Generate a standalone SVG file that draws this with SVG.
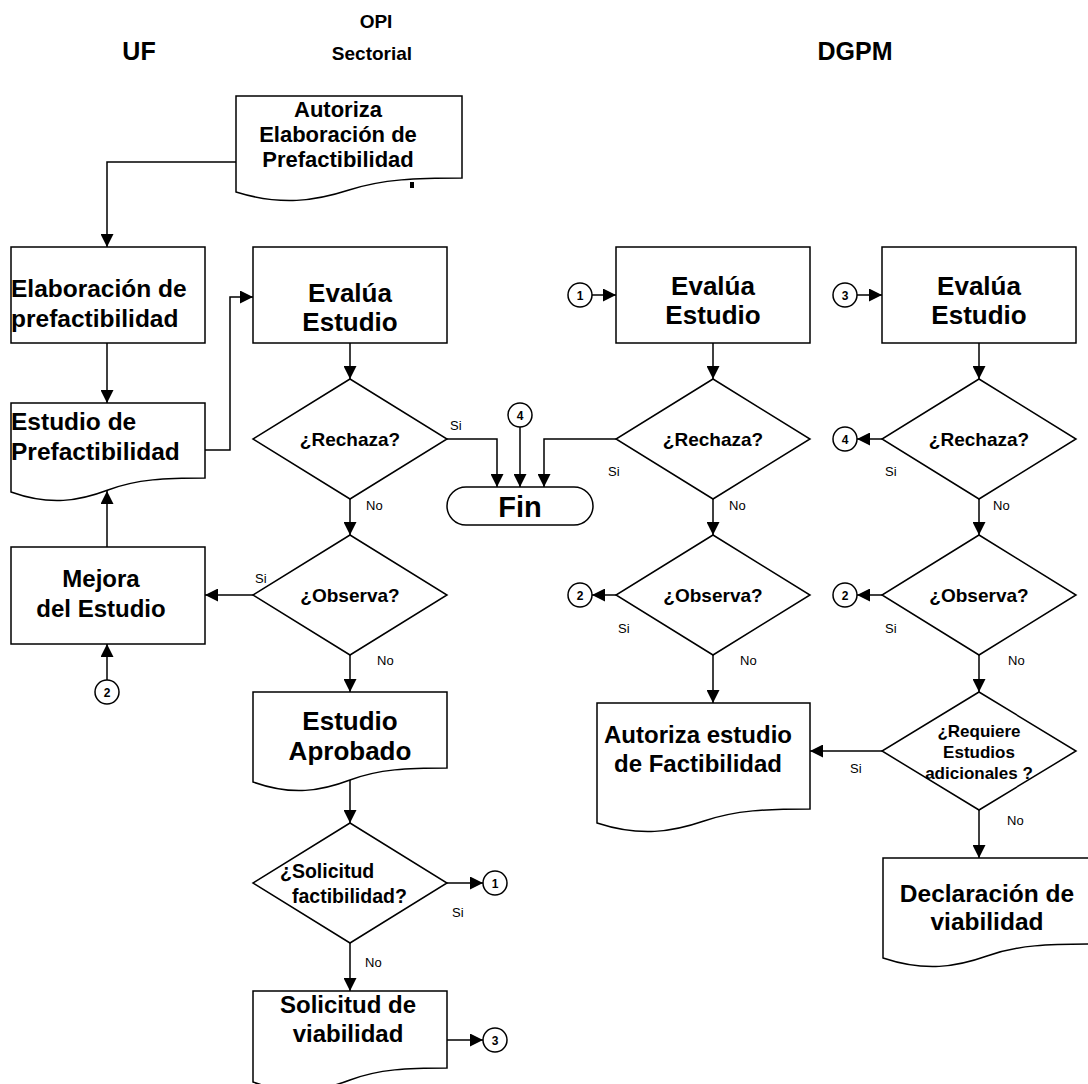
<svg xmlns="http://www.w3.org/2000/svg" width="1088" height="1084" viewBox="0 0 1088 1084">
<style>
.s{fill:#fff;stroke:#000;stroke-width:1.5}
.c{fill:none;stroke:#000;stroke-width:1.5}
.t{font-family:"Liberation Sans",Arial,sans-serif;font-weight:bold;fill:#000;text-anchor:middle}
.ts{font-family:"Liberation Sans",Arial,sans-serif;font-weight:bold;fill:#000}
.l{font-family:"Liberation Sans",Arial,sans-serif;font-size:13px;fill:#000}
.n{font-family:"Liberation Sans",Arial,sans-serif;font-weight:bold;font-size:12px;fill:#000;text-anchor:middle}
</style>
<defs>
<marker id="a" markerWidth="13" markerHeight="13" refX="13" refY="6.5" orient="auto" markerUnits="userSpaceOnUse">
<path d="M0,0 L13,6.5 L0,13 Z" fill="#000"/>
</marker>
</defs>
<rect width="1088" height="1084" fill="#fff"/>
<g id="headers">
<text class="t" x="139" y="60" font-size="25">UF</text>
<text class="t" x="376" y="28" font-size="19">OPI</text>
<text class="t" x="372" y="60" font-size="19">Sectorial</text>
<text class="t" x="855" y="60" font-size="25">DGPM</text>
</g>
<g id="connectors" class="c" marker-end="url(#a)">
<path d="M236,162 H107 V247"/>
<path d="M107,343 V403"/>
<path d="M205,450 H230 V297 H253"/>
<path d="M350,343 V379"/>
<path d="M447,439 H497 V487"/>
<path d="M520,427 V487"/>
<path d="M616,439 H544 V487"/>
<path d="M350,499 V535"/>
<path d="M253,595 H205"/>
<path d="M107,547 V491"/>
<path d="M107,680 V644"/>
<path d="M350,655 V692"/>
<path d="M350,780 V823"/>
<path d="M447,883 H483"/>
<path d="M350,943 V991"/>
<path d="M447,1040 H483"/>
<path d="M592,295 H616"/>
<path d="M713,343 V379"/>
<path d="M713,499 V535"/>
<path d="M616,595 H592"/>
<path d="M713,655 V703"/>
<path d="M857,295 H882"/>
<path d="M979,343 V379"/>
<path d="M882,439 H857"/>
<path d="M979,499 V535"/>
<path d="M882,595 H857"/>
<path d="M979,655 V692"/>
<path d="M882,751 H810"/>
<path d="M979,810 V858"/>
</g>
<g id="edge-labels" class="l">
<text x="450" y="430">Si</text>
<text x="366" y="510">No</text>
<text x="255" y="583">Si</text>
<text x="377" y="665">No</text>
<text x="452" y="917">Si</text>
<text x="365" y="967">No</text>
<text x="608" y="476">Si</text>
<text x="729" y="510">No</text>
<text x="885" y="476">Si</text>
<text x="993" y="510">No</text>
<text x="618" y="633">Si</text>
<text x="740" y="665">No</text>
<text x="885" y="633">Si</text>
<text x="1008" y="665">No</text>
<text x="850" y="773">Si</text>
<text x="1007" y="825">No</text>
</g>
<g id="autoriza-elaboracion">
<path class="s" d="M236,192 C281,206 315,201 349,190 S417,178 462,178 V96 H236 Z"/>
<text class="t" x="338" y="117" font-size="22">Autoriza</text>
<text class="t" x="338" y="142" font-size="22">Elaboración de</text>
<text class="t" x="338" y="167" font-size="22">Prefactibilidad</text>
<rect x="410" y="182" width="4" height="6" fill="#000"/>
</g>
<g id="elaboracion">
<rect class="s" x="11" y="247" width="194" height="96"/>
<text class="ts" x="11" y="297" font-size="24.5">Elaboración de</text>
<text class="ts" x="11" y="327" font-size="24.5">prefactibilidad</text>
</g>
<g id="estudio-prefactibilidad">
<path class="s" d="M11,492 C50,506 79,501 108,490 S166,478 205,478 V403 H11 Z"/>
<text class="ts" x="11" y="430" font-size="24.5">Estudio de</text>
<text class="ts" x="11" y="460" font-size="24.5">Prefactibilidad</text>
</g>
<g id="mejora">
<rect class="s" x="11" y="547" width="194" height="97"/>
<text class="t" x="101" y="587" font-size="24">Mejora</text>
<text class="t" x="101" y="617" font-size="24">del Estudio</text>
</g>
<g id="c2-uf">
<circle class="s" cx="107" cy="692" r="12"/>
<text class="n" x="107" y="696.5">2</text>
</g>
<g id="evalua-opi">
<rect class="s" x="253" y="247" width="194" height="96"/>
<text class="t" x="350" y="302" font-size="26">Evalúa</text>
<text class="t" x="350" y="331" font-size="26">Estudio</text>
</g>
<g id="rechaza-opi">
<path class="s" d="M350,379 L447,439 L350,499 L253,439 Z"/>
<text class="t" x="350" y="446" font-size="19">¿Rechaza?</text>
</g>
<g id="observa-opi">
<path class="s" d="M350,535 L447,595 L350,655 L253,595 Z"/>
<text class="t" x="350" y="602" font-size="19">¿Observa?</text>
</g>
<g id="estudio-aprobado">
<path class="s" d="M253,782 C292,796 321,791 350,780 S408,768 447,768 V692 H253 Z"/>
<text class="t" x="350" y="730" font-size="26">Estudio</text>
<text class="t" x="350" y="760" font-size="26">Aprobado</text>
</g>
<g id="solicitud-factibilidad">
<path class="s" d="M350,823 L447,883 L350,943 L253,883 Z"/>
<text class="ts" x="280" y="878" font-size="19.5">¿Solicitud</text>
<text class="ts" x="292" y="903" font-size="19.5">factibilidad?</text>
</g>
<g id="solicitud-viabilidad">
<path class="s" d="M253,1082 C292,1096 321,1091 350,1080 S408,1068 447,1068 V991 H253 Z"/>
<text class="t" x="348" y="1013" font-size="24">Solicitud de</text>
<text class="t" x="348" y="1042" font-size="24">viabilidad</text>
</g>
<g id="c1-out">
<circle class="s" cx="495" cy="883" r="12"/>
<text class="n" x="495" y="887.5">1</text>
</g>
<g id="c3-out">
<circle class="s" cx="495" cy="1040" r="12"/>
<text class="n" x="495" y="1044.5">3</text>
</g>
<g id="fin">
<rect class="s" x="447" y="487" width="146" height="38" rx="19" ry="19"/>
<text class="t" x="520" y="517" font-size="29">Fin</text>
</g>
<g id="c4-fin">
<circle class="s" cx="520" cy="415" r="12"/>
<text class="n" x="520" y="419.5">4</text>
</g>
<g id="c1-in">
<circle class="s" cx="580" cy="295" r="12"/>
<text class="n" x="580" y="299.5">1</text>
</g>
<g id="evalua-dgpm1">
<rect class="s" x="616" y="247" width="194" height="96"/>
<text class="t" x="713" y="295" font-size="26">Evalúa</text>
<text class="t" x="713" y="324" font-size="26">Estudio</text>
</g>
<g id="rechaza-dgpm1">
<path class="s" d="M713,379 L810,439 L713,499 L616,439 Z"/>
<text class="t" x="713" y="446" font-size="19">¿Rechaza?</text>
</g>
<g id="observa-dgpm1">
<path class="s" d="M713,535 L810,595 L713,655 L616,595 Z"/>
<text class="t" x="713" y="602" font-size="19">¿Observa?</text>
</g>
<g id="c2-dgpm1">
<circle class="s" cx="580" cy="595" r="12"/>
<text class="n" x="580" y="599.5">2</text>
</g>
<g id="autoriza-factibilidad">
<path class="s" d="M597,823 C640,837 672,832 704,821 S767,809 810,809 V703 H597 Z"/>
<text class="t" x="698" y="743" font-size="24">Autoriza estudio</text>
<text class="t" x="698" y="772" font-size="24">de Factibilidad</text>
</g>
<g id="c3-in">
<circle class="s" cx="845" cy="295" r="12"/>
<text class="n" x="845" y="299.5">3</text>
</g>
<g id="evalua-dgpm2">
<rect class="s" x="882" y="247" width="194" height="96"/>
<text class="t" x="979" y="295" font-size="26">Evalúa</text>
<text class="t" x="979" y="324" font-size="26">Estudio</text>
</g>
<g id="rechaza-dgpm2">
<path class="s" d="M979,379 L1076,439 L979,499 L882,439 Z"/>
<text class="t" x="979" y="446" font-size="19">¿Rechaza?</text>
</g>
<g id="c4-dgpm2">
<circle class="s" cx="845" cy="439" r="12"/>
<text class="n" x="845" y="443.5">4</text>
</g>
<g id="observa-dgpm2">
<path class="s" d="M979,535 L1076,595 L979,655 L882,595 Z"/>
<text class="t" x="979" y="602" font-size="19">¿Observa?</text>
</g>
<g id="c2-dgpm2">
<circle class="s" cx="845" cy="595" r="12"/>
<text class="n" x="845" y="599.5">2</text>
</g>
<g id="requiere">
<path class="s" d="M979,692 L1076,751 L979,810 L882,751 Z"/>
<text class="t" x="979" y="737" font-size="17">¿Requiere</text>
<text class="t" x="979" y="758" font-size="17">Estudios</text>
<text class="t" x="979" y="779" font-size="17">adicionales ?</text>
</g>
<g id="declaracion">
<path class="s" d="M883,958 C925,972 956,967 987,956 S1049,944 1091,944 V858 H883 Z"/>
<text class="t" x="987" y="902" font-size="24.5">Declaración de</text>
<text class="t" x="987" y="930" font-size="24.5">viabilidad</text>
</g>
</svg>
